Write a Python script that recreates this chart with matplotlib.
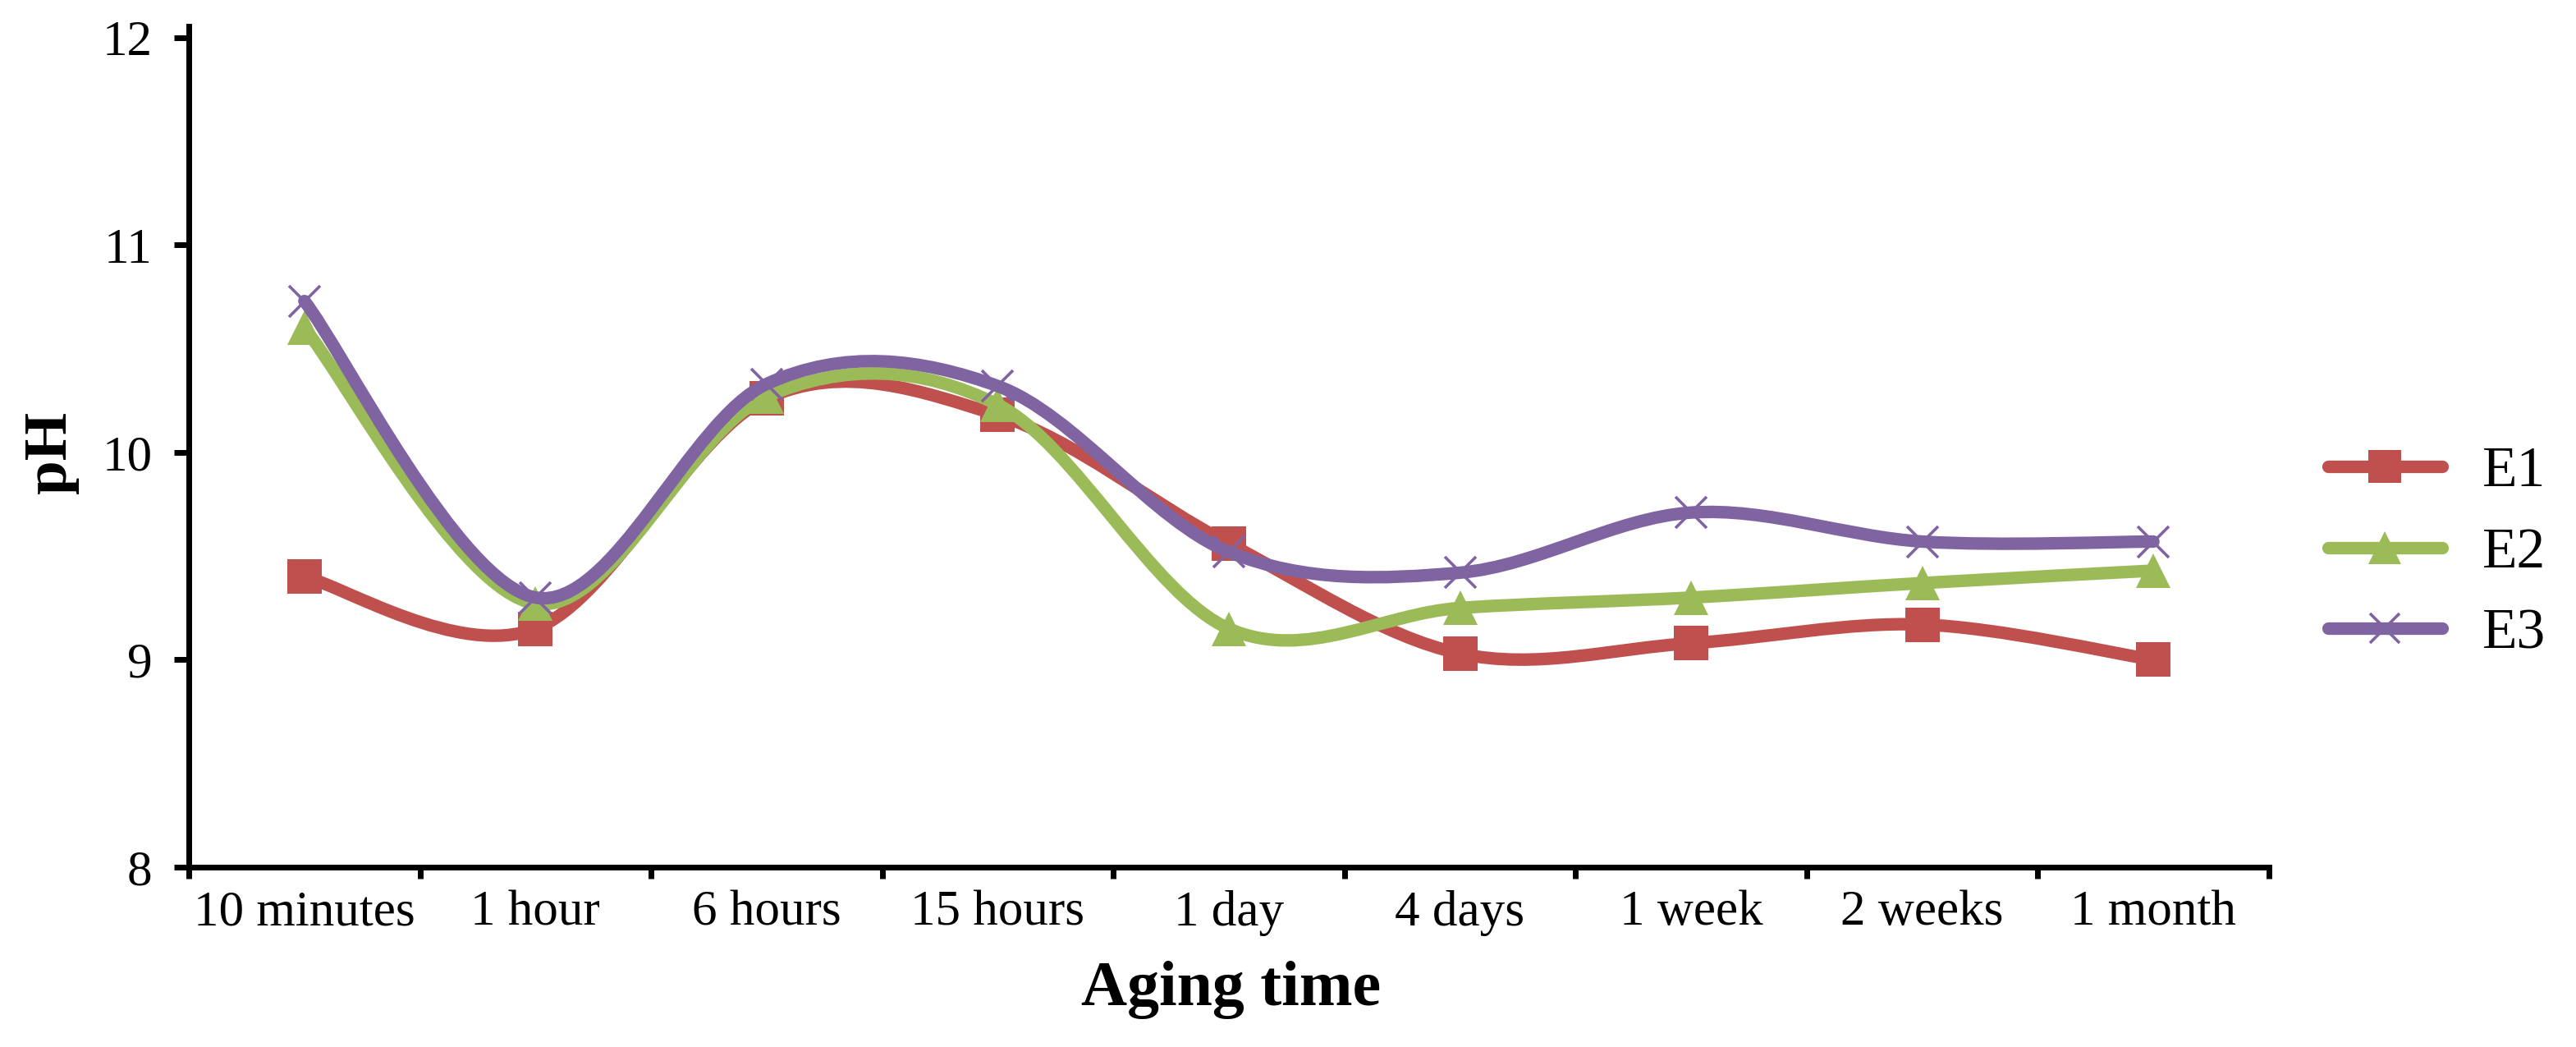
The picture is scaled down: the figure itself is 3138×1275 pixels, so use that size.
"""
pH vs aging time for E1-E3 (smoothed line chart, Excel style)
"""

import numpy as np
import matplotlib
matplotlib.use("Agg")
import matplotlib.pyplot as plt
from matplotlib.path import Path
from matplotlib.patches import PathPatch
from matplotlib.lines import Line2D

# ─────────────────────────────────────────────
# DATA
# ─────────────────────────────────────────────

CATEGORIES = ["10 minutes", "1 hour", "6 hours", "15 hours", "1 day",
              "4 days", "1 week", "2 weeks", "1 month"]

E1 = [9.40, 9.15, 10.26, 10.18, 9.56, 9.03, 9.08, 9.17, 9.00]
E2 = [10.60, 9.27, 10.27, 10.23, 9.15, 9.25, 9.30, 9.37, 9.43]
E3 = [10.73, 9.30, 10.33, 10.32, 9.52, 9.42, 9.71, 9.57, 9.57]

SERIES_NAMES = ["E1", "E2", "E3"]
Y_TICKS = [8, 9, 10, 11, 12]

# ─────────────────────────────────────────────
# STYLE
# ─────────────────────────────────────────────

COLORS = {"E1": "#C0504D", "E2": "#9BBB59", "E3": "#8064A2"}
MARKERS = {"E1": "s", "E2": "^", "E3": "x"}
MSIZE = {"E1": 30, "E2": 30, "E3": 28}
LW = 11
FONT = "Liberation Serif"

plt.rcParams["font.family"] = [FONT, "DejaVu Serif"]


def smooth_path(xs, ys):
    # Bezier segments through every point (like Excel's "smoothed line")
    pts = np.column_stack([xs, ys]).astype(float)
    n = len(pts)
    verts = [pts[0]]
    codes = [Path.MOVETO]
    for i in range(n - 1):
        p0 = pts[max(i - 1, 0)]
        p1 = pts[i]
        p2 = pts[i + 1]
        p3 = pts[min(i + 2, n - 1)]
        c1 = p1 + (p2 - p0) / 6.0
        c2 = p2 - (p3 - p1) / 6.0
        verts += [c1, c2, p2]
        codes += [Path.CURVE4] * 3
    return Path(verts, codes)


fig = plt.figure(figsize=(31.38, 12.75), dpi=100)
ax = fig.add_axes([0.0733, 0.1718, 0.8075, 0.8031])

x = np.arange(len(CATEGORIES)) + 0.5
series = {"E1": E1, "E2": E2, "E3": E3}

handles = []
for k, name in enumerate(SERIES_NAMES):
    col = COLORS[name]
    patch = PathPatch(smooth_path(x, series[name]), fill=False, edgecolor=col,
                      lw=LW, capstyle="round", joinstyle="round",
                      zorder=3 + 2 * k)
    ax.add_patch(patch)
    mew = 2.6 if name == "E3" else 0
    ax.plot(x, series[name], ls="none", marker=MARKERS[name], ms=MSIZE[name],
            color=col, mec=col, mew=mew, zorder=4 + 2 * k, clip_on=False)
    handles.append(Line2D([], [], color=col, lw=LW, solid_capstyle="round",
                          marker=MARKERS[name], ms=MSIZE[name] * 0.95,
                          mec=col, mew=mew))

# axes
ax.set_xlim(0, len(CATEGORIES))
ax.set_ylim(8, 12.055)
ax.set_xticks(np.arange(len(CATEGORIES) + 1))
ax.set_xticklabels([])
ax.set_xticks(x, minor=True)
ax.set_xticklabels(CATEGORIES, minor=True)
ax.set_yticks(Y_TICKS)
ax.set_yticklabels([str(v) for v in Y_TICKS])

ax.tick_params(axis="x", which="major", length=10, width=5, direction="out")
ax.tick_params(axis="x", which="minor", length=0, pad=20, labelsize=44)
ax.tick_params(axis="y", which="major", length=13, width=5, pad=19, labelsize=44)

for side in ["top", "right"]:
    ax.spines[side].set_visible(False)
for side in ["left", "bottom"]:
    ax.spines[side].set_linewidth(5)

fig.text(1500 / 3138, 1 - 1224 / 1275, "Aging time", ha="center", va="baseline",
         fontsize=56, fontweight="bold")
fig.text(62 / 3138, 1 - 551 / 1275, "pH", ha="center", va="center",
         rotation=90, fontsize=54, fontweight="bold")

fig.legend(handles, SERIES_NAMES, loc="center left",
           bbox_to_anchor=(2836 / 3138, 1 - 674 / 1275), frameon=False,
           fontsize=50, borderpad=0, borderaxespad=0, handlelength=2.0,
           handletextpad=0.7, labelspacing=0.5)

fig.savefig("out.png", dpi=100)
